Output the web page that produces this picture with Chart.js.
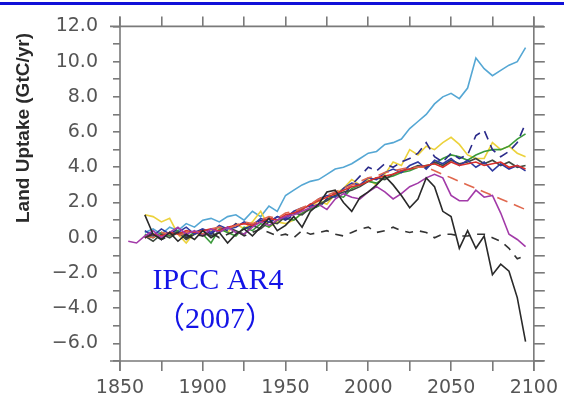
<!DOCTYPE html>
<html>
<head>
<meta charset="utf-8">
<script src="https://cdn.jsdelivr.net/npm/chart.js@4/dist/chart.umd.min.js"></script>
<style>
  html, body { margin: 0; padding: 0; background: #fff; }
  #wrap { width: 564px; height: 402px; position: relative; }
</style>
</head>
<body>
<div id="wrap"><canvas id="c" width="564" height="402"></canvas></div>
<script>
// years every 5 yr, 1855..2095
const years = [];
for (let y = 1855; y <= 2095; y += 5) years.push(y);

const lightBlue = [null, null,
  0.3, 0.5, 0.2, 0.6, 0.4, 0.8, 0.6, 1.0, 1.1, 0.9, 1.2, 1.3, 1.0, 1.5, 1.2, 1.8, 1.5,
  2.4, 2.7, 3.0, 3.2, 3.3, 3.6, 3.9, 4.0, 4.2, 4.5, 4.8, 4.9, 5.3, 5.4,
  5.6, 6.2, 6.6, 7.0, 7.6, 8.0, 8.2, 7.9, 8.5, 10.2, 9.6, 9.2, 9.5, 9.8, 10.0, 10.8];
const yellow = [null, null,
  1.3, 1.2, 0.9, 1.1, 0.2, -0.3, 0.3, 0.1, 0.4, 0.6, 0.3, 0.8, 0.5, 0.9, 1.5, 0.6, 0.9,
  0.8, 1.0, 1.4, 1.7, 2.1, 1.9, 2.5, 2.8, 3.3, 3.0, 3.3, 3.0, 3.6, 4.3,
  4.1, 5.0, 4.7, 5.2, 5.0, 5.4, 5.7, 5.3, 4.7, 4.5, 4.5, 5.4, 5.0, 5.2, 4.8, 4.6];
const green = [null, null,
  0.2, 0.0, 0.3, 0.1, 0.4, 0.0, 0.3, 0.2, -0.3, 0.5, 0.3, 0.1, 0.6, 0.4, 0.8, 0.6, 1.0,
  1.1, 1.0, 1.4, 1.6, 1.8, 2.2, 2.4, 2.3, 2.8, 3.0, 3.2, 3.1, 3.4, 3.5,
  3.7, 3.8, 4.0, 4.1, 4.2, 4.5, 4.7, 4.6, 4.4, 4.7, 4.9, 5.0, 5.0, 5.2, 5.6, 5.9];
const navyDashed = [null, null,
  0.0, 0.3, -0.1, 0.2, 0.5, 0.1, 0.3, 0.5, 0.2, 0.6, 0.4, 0.8, 0.5, 0.7, 1.0, 0.8, 1.2,
  1.0, 1.3, 1.6, 1.9, 1.7, 2.2, 2.6, 2.4, 3.0, 3.5, 4.0, 3.8, 4.2, 4.0,
  4.3, 4.5, 4.8, 5.4, 4.6, 4.3, 4.8, 4.5, 4.7, 5.8, 6.1, 5.0, 4.6, 4.9, 5.4, 6.5];
const red = [null, null,
  0.0, 0.2, 0.1, 0.3, 0.2, 0.4, 0.3, 0.4, 0.5, 0.4, 0.6, 0.7, 0.8, 0.7, 0.9, 1.1, 1.0,
  1.3, 1.4, 1.6, 1.9, 2.1, 2.3, 2.5, 2.7, 2.9, 3.0, 3.2, 3.4, 3.5, 3.6,
  3.8, 3.9, 4.0, 4.1, 4.2, 4.0, 4.3, 4.1, 4.2, 4.3, 4.1, 4.2, 4.3, 4.0, 4.1, 3.9];
const salmonDashed = [null, null,
  0.1, 0.0, 0.3, 0.2, 0.1, 0.3, 0.4, 0.2, 0.5, 0.6, 0.5, 0.7, 0.9, 0.8, 1.0, 1.2, 1.1,
  1.4, 1.5, 1.7, 1.9, 2.2, 2.4, 2.6, 2.8, 3.0, 3.2, 3.4, 3.5, 3.7, 3.8,
  3.9, 4.0, 4.0, 4.0, 3.8, 3.6, 3.4, 3.2, 3.0, 2.8, 2.6, 2.4, 2.2, 2.0, 1.8, 1.6];
const magenta = [-0.2, -0.3,
  0.1, 0.4, 0.0, 0.3, 0.6, 0.2, 0.4, 0.1, 0.5, 0.3, 0.6, 0.3, 0.2, 0.6, 0.9, 0.7, 1.0,
  1.2, 1.3, 1.5, 1.7, 1.9, 1.6, 2.2, 2.5, 2.3, 2.2, 2.6, 2.9, 2.6, 2.2,
  2.5, 2.9, 3.1, 3.4, 3.6, 3.4, 2.4, 2.1, 2.1, 2.7, 2.3, 2.4, 1.4, 0.2, -0.1, -0.5];
const blackSolid = [null, null,
  1.3, 0.2, -0.1, 0.3, -0.2, 0.2, -0.1, 0.4, 0.0, 0.3, -0.3, 0.2, 0.5, 0.1, 0.6, 1.1, 0.4,
  0.7, 1.2, 0.6, 1.5, 1.9, 2.6, 2.7, 2.0, 1.5, 2.3, 2.6, 3.0, 3.5, 3.0,
  2.4, 1.7, 2.2, 3.4, 2.9, 1.5, 1.2, -0.6, 0.4, -0.6, 0.1, -2.1, -1.5, -1.9, -3.4, -5.9];
const blackDashed = [null, null,
  0.0, 0.2, -0.1, 0.1, 0.3, 0.0, 0.2, 0.1, 0.3, 0.0, 0.2, 0.4, 0.1, 0.3, 0.5, 0.3, 0.1,
  0.2, 0.0, 0.4, 0.2, 0.3, 0.4, 0.2, 0.1, 0.3, 0.5, 0.6, 0.3, 0.4, 0.6,
  0.4, 0.3, 0.4, 0.3, 0.0, 0.2, 0.2, 0.1, 0.1, 0.2, 0.2, 0.0, -0.2, -0.6, -1.2, -1.0];
const navySolid = [null, null,
  0.4, 0.1, 0.5, 0.2, 0.3, 0.6, 0.2, 0.5, 0.3, 0.7, 0.5, 0.6, 0.9, 0.7, 1.1, 0.9, 1.2,
  1.1, 1.5, 1.7, 1.8, 2.2, 2.4, 2.3, 2.8, 3.1, 3.0, 3.4, 3.3, 3.7, 3.9,
  3.7, 4.1, 4.3, 3.9, 4.4, 4.2, 4.5, 4.1, 4.4, 4.0, 4.3, 3.8, 4.2, 3.9, 4.1, 3.8];
const darkGrey = [null, null,
  0.1, -0.2, 0.2, 0.0, 0.3, -0.1, 0.2, 0.4, 0.1, 0.3, 0.6, 0.4, 0.2, 0.7, 0.5, 0.9, 0.8,
  1.2, 1.4, 1.3, 1.7, 1.9, 2.1, 2.4, 2.6, 2.7, 2.9, 3.2, 3.4, 3.3, 3.6,
  3.8, 3.9, 4.1, 4.0, 4.3, 4.1, 4.4, 4.2, 4.3, 4.5, 4.2, 4.4, 4.1, 4.3, 4.0, 4.1];

const xMin = 1850, xMax = 2100;
const yMin = -7, yMax = 12;
const yLabels = [-6, -4, -2, 0, 2, 4, 6, 8, 10, 12];
const xLabels = [1850, 1900, 1950, 2000, 2050, 2100];

function pts(arr) {
  return years.map((yr, i) => ({ x: yr, y: arr[i] }));
}

function line(label, arr, color, dash) {
  return {
    label: label,
    data: pts(arr),
    borderColor: color,
    backgroundColor: color,
    borderWidth: 1.6,
    borderDash: dash || [],
    pointRadius: 0,
    tension: 0,
    spanGaps: false
  };
}

const datasets = [
  line('black', blackSolid, '#2a2a2a'),
  line('blackDashed', blackDashed, '#333333', [8, 7]),
  line('magenta', magenta, '#a23aa8'),
  line('salmon', salmonDashed, '#e0684e', [11, 7]),
  line('red', red, '#d8302c'),
  line('navy', navySolid, '#2f3aa0'),
  line('darkGrey', darkGrey, '#404a40'),
  line('navyDashed', navyDashed, '#2a2a8a', [9, 6]),
  line('green', green, '#3a9a3a'),
  line('yellow', yellow, '#ecd23c'),
  line('lightBlue', lightBlue, '#55a7d4')
];

const tickColor = '#7a7a7a';
const labelFont = { family: 'DejaVu Sans', size: 19 };

function fmt(v) {
  const s = Math.abs(v).toFixed(1);
  return v < 0 ? '\u2212' + s : s;
}

const frame = {
  id: 'frame',
  afterDraw(chart) {
    const { ctx, chartArea: a } = chart;
    ctx.save();
    // blue rule at top of slide
    ctx.fillStyle = '#1010d8';
    ctx.fillRect(0, 2, 564, 3);

    // axis frame, lines run a bit past the corners
    const ext = 10;
    ctx.strokeStyle = tickColor;
    ctx.lineWidth = 1.6;
    ctx.beginPath();
    ctx.moveTo(a.left - ext, a.top); ctx.lineTo(a.right + ext, a.top);
    ctx.moveTo(a.left - ext, a.bottom); ctx.lineTo(a.right + ext, a.bottom);
    ctx.moveTo(a.left, a.top - ext); ctx.lineTo(a.left, a.bottom + ext);
    ctx.moveTo(a.right, a.top - ext); ctx.lineTo(a.right, a.bottom + ext);
    ctx.stroke();

    // y axis title, sits higher than the axis middle
    ctx.save();
    ctx.translate(24, 128);
    ctx.rotate(-Math.PI / 2);
    ctx.fillStyle = '#2a2a2a';
    ctx.font = 'bold 19px "Liberation Sans"';
    ctx.textAlign = 'center';
    ctx.textBaseline = 'middle';
    ctx.fillText('Land Uptake (GtC/yr)', 0, 0);
    ctx.restore();

    // IPCC label
    ctx.fillStyle = '#1414e6';
    ctx.font = '30px "Liberation Serif"';
    ctx.textAlign = 'center';
    ctx.textBaseline = 'alphabetic';
    ctx.fillText('IPCC AR4', 218, 289);
    ctx.font = '30px "Liberation Serif", "Noto Sans CJK SC"';
    ctx.fillText('\uFF082007\uFF09', 215, 328);
    ctx.restore();
  }
};

new Chart(document.getElementById('c'), {
  type: 'line',
  data: { datasets },
  options: {
    responsive: false,
    animation: false,
    layout: { padding: 0 },
    plugins: {
      legend: { display: false },
      tooltip: { enabled: false }
    },
    scales: {
      x: {
        type: 'linear',
        position: 'bottom',
        min: xMin, max: xMax,
        afterFit(s) { s.height = 41; },
        afterBuildTicks(s) {
          s.ticks = [];
          for (let v = xMin; v <= xMax; v += 25) s.ticks.push({ value: v });
        },
        ticks: {
          color: '#555',
          font: labelFont,
          padding: 6,
          maxRotation: 0,
          autoSkip: false,
          callback: v => xLabels.includes(v) ? String(v) : ''
        },
        grid: { drawOnChartArea: false, drawTicks: true, tickLength: 10, color: tickColor, lineWidth: 1.6 },
        border: { display: false }
      },
      xTop: {
        type: 'linear',
        position: 'top',
        min: xMin, max: xMax,
        afterFit(s) { s.height = 20; },
        afterBuildTicks(s) {
          s.ticks = [];
          for (let v = xMin; v <= xMax; v += 25) s.ticks.push({ value: v });
        },
        ticks: { callback: () => '', padding: 0 },
        grid: { drawOnChartArea: false, drawTicks: true, tickLength: 10, color: tickColor, lineWidth: 1.6 },
        border: { display: false }
      },
      y: {
        type: 'linear',
        position: 'left',
        min: yMin, max: yMax,
        afterFit(s) { s.width = 120; },
        afterBuildTicks(s) {
          s.ticks = [];
          for (let v = yMin; v <= yMax; v += 1) s.ticks.push({ value: v });
        },
        ticks: {
          color: '#555',
          font: labelFont,
          padding: 15,
          autoSkip: false,
          callback: v => yLabels.includes(v) ? fmt(v) : ''
        },
        grid: { drawOnChartArea: false, drawTicks: true, tickLength: 7, color: tickColor, lineWidth: 1.6 },
        border: { display: false }
      },
      yRight: {
        type: 'linear',
        position: 'right',
        min: yMin, max: yMax,
        afterFit(s) { s.width = 29; },
        afterBuildTicks(s) {
          s.ticks = [];
          for (let v = yMin; v <= yMax; v += 1) s.ticks.push({ value: v });
        },
        ticks: { callback: () => '', padding: 0 },
        grid: { drawOnChartArea: false, drawTicks: true, tickLength: 11, color: tickColor, lineWidth: 1.6 },
        border: { display: false }
      }
    }
  },
  plugins: [frame]
});
</script>
</body>
</html>
